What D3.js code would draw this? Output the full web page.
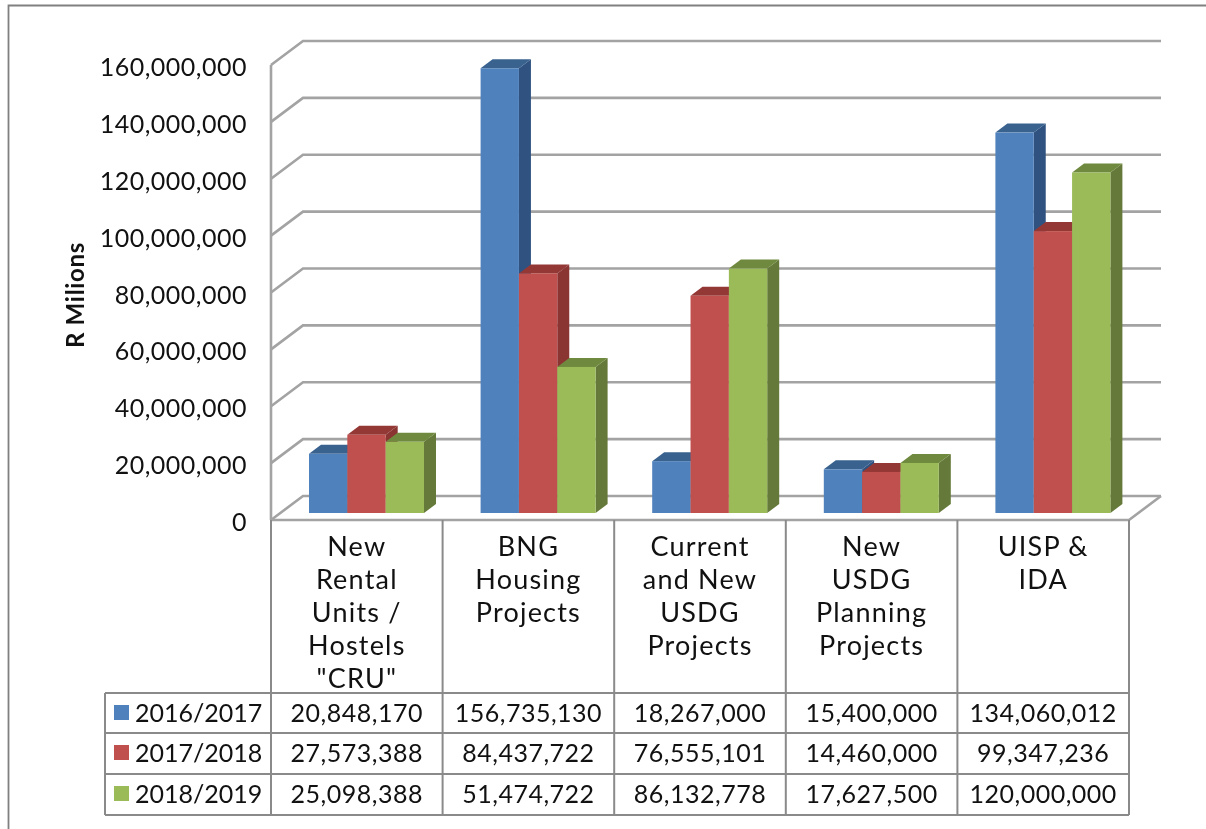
<!DOCTYPE html>
<html><head><meta charset="utf-8">
<style>
html,body{margin:0;padding:0;background:#fff}
svg{display:block;filter:blur(0.45px)}
text{font-family:Lato,sans-serif;font-size:25px;letter-spacing:.5px;fill:#111}
</style>
<script src="https://cdn.jsdelivr.net/npm/d3@7/dist/d3.min.js"></script>
</head><body><svg id="c" width="1206" height="829"></svg>
<script>
const categories = ["New Rental Units / Hostels \"CRU\"","BNG Housing Projects","Current and New USDG Projects","New USDG Planning Projects","UISP & IDA"];
const categoryLines = [["New","Rental","Units /","Hostels","\"CRU\""],["BNG","Housing","Projects"],["Current","and New","USDG","Projects"],["New","USDG","Planning","Projects"],["UISP &","IDA"]];
const seriesNames = ["2016/2017","2017/2018","2018/2019"];
const values2016 = [20848170,156735130,18267000,15400000,134060012];
const values2017 = [27573388,84437722,76555101,14460000,99347236];
const values2018 = [25098388,51474722,86132778,17627500,120000000];
const seriesValues = [values2016,values2017,values2018];
const tickValues = [0,20000000,40000000,60000000,80000000,100000000,120000000,140000000,160000000];
const frontColors = ["#4f81bd","#c0504d","#9bbb59"];
const sideColors = ["#2f5280","#8b3533","#657a3a"];
const topColors = ["#39628f","#943836","#6f8a3e"];
const yAxisTitle = "R Milions";

const svg = d3.select("#c");
const fmt = d3.format(",");
const depth = {x:32,y:24}, barDepth = {x:12,y:9};
const xBand = d3.scaleBand().domain(categories).range([271,1129]);
const xInner = d3.scaleBand().domain(seriesNames).range([38,153]);
const yWall = d3.scaleLinear().domain([0,160000000]).range([520,65]);
const yBar = d3.scaleLinear().domain([0,160000000]).range([513,59]);

// frame
svg.append("path").attr("d","M8.5,829V5.5H1206").attr("fill","none").attr("stroke","#808080").attr("stroke-width",1.8);

// gridlines on walls
const gridColor="#a3a3a3";
const grid = svg.append("g").attr("fill","none").attr("stroke",gridColor).attr("stroke-width",2.6);
grid.selectAll("path.g").data(tickValues).join("path").attr("class","g")
  .attr("d",d=>{const y=yWall(d);return `M271,${y}L${271+depth.x},${y-depth.y}H${1129+depth.x}`;});
// floor
grid.append("path").attr("d",`M271,520H1129L${1129+depth.x},${520-depth.y}`);
grid.append("path").attr("d",`M271,${yWall(160000000)}V520`);

// bars
const bars = svg.append("g");
categories.forEach((c,ci)=>{
  seriesNames.forEach((s,si)=>{
    const v = seriesValues[si][ci];
    const x0 = xBand(c)+xInner(s), w = xInner.bandwidth(), yt = yBar(v), yb = yBar(0);
    const g = bars.append("g");
    g.append("path").attr("fill",sideColors[si])
      .attr("d",`M${x0+w},${yt}L${x0+w+barDepth.x},${yt-barDepth.y}V${yb-barDepth.y}L${x0+w},${yb}Z`);
    g.append("path").attr("fill",topColors[si])
      .attr("d",`M${x0},${yt}L${x0+barDepth.x},${yt-barDepth.y}H${x0+w+barDepth.x}L${x0+w},${yt}Z`);
    g.append("rect").attr("x",x0).attr("y",yt).attr("width",w).attr("height",yb-yt).attr("fill",frontColors[si]);
  });
});

// y axis labels
const axis = d3.axisLeft(yWall).tickValues(tickValues).tickFormat(fmt).tickSize(0).tickPadding(0);
const ax = svg.append("g").attr("transform","translate(247,2.5)").call(axis);
ax.select(".domain").remove();
ax.selectAll("text").attr("fill","#111").style("font-family","Lato,sans-serif").style("font-size","25px");

svg.append("text").attr("transform","translate(84,295) rotate(-90)").attr("text-anchor","middle")
  .style("font-weight","700").style("font-size","24px").style("letter-spacing","0.7px").text(yAxisTitle);

// data table
const rowTop = [693,733,774,815];
const tableColor="#8a8a8a";
const t = svg.append("g").attr("stroke",tableColor).attr("stroke-width",2).attr("fill","none");
xBand.domain().forEach(c=>t.append("line").attr("x1",xBand(c)).attr("x2",xBand(c)).attr("y1",520).attr("y2",815));
t.append("line").attr("x1",1129).attr("x2",1129).attr("y1",520).attr("y2",815);
t.append("line").attr("x1",105).attr("x2",105).attr("y1",693).attr("y2",815);
rowTop.forEach(y=>t.append("line").attr("x1",105).attr("x2",1129).attr("y1",y).attr("y2",y));

categoryLines.forEach((lines,ci)=>{
  const cx = xBand(categories[ci])+xBand.bandwidth()/2;
  lines.forEach((l,li)=>svg.append("text").attr("x",cx).attr("y",556+li*33).attr("text-anchor","middle")
    .style("font-size","27px").style("letter-spacing","1.2px").text(l));
});
seriesNames.forEach((s,si)=>{
  const base = rowTop[si]+29;
  svg.append("rect").attr("x",114).attr("y",rowTop[si]+12).attr("width",15).attr("height",15).attr("fill",frontColors[si]);
  svg.append("text").attr("x",135).attr("y",base).style("letter-spacing","0px").text(s);
  categories.forEach((c,ci)=>svg.append("text").attr("x",xBand(c)+xBand.bandwidth()/2).attr("y",base).attr("text-anchor","middle").text(fmt(seriesValues[si][ci])));
});
</script></body></html>
